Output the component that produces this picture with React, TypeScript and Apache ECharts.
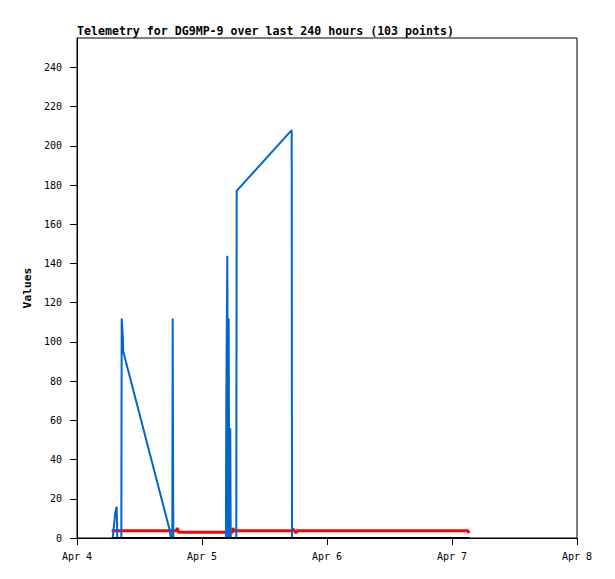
import React, { useEffect, useRef } from "react";
import * as echarts from "echarts";

// Hours since Apr 4 00:00
const xTickLabels = ["Apr 4", "Apr 5", "Apr 6", "Apr 7", "Apr 8"];
const yTicks = [0, 20, 40, 60, 80, 100, 120, 140, 160, 180, 200, 220, 240];

const blueHours = [6.85, 6.97, 7.16, 7.35, 7.62, 7.74, 8.51, 8.58, 8.77, 8.89, 17.8, 17.99, 18.3, 18.37, 18.49, 28.59, 28.67, 28.86, 29.0, 29.12, 29.24, 29.43, 29.51, 30.58, 30.66, 41.22, 41.28, 75.26];
const blueValues = [0, 3, 8, 13, 16, 0, 0, 112, 104, 95, 4, 0, 0, 112, 0, 0, 72, 144, 0, 112, 0, 56, 0, 0, 177, 208, 0, 0];

const redHours = [6.66, 19.1, 19.26, 19.49, 29.82, 29.95, 30.14, 41.38, 41.47, 42.1, 42.24, 75.07, 75.26];
const redValues = [3.7, 3.7, 5.1, 2.9, 2.9, 5.1, 3.7, 3.7, 4.6, 2.5, 3.7, 3.7, 2.5];

const blackHours = [6.77, 75.4];
const blackValues = [0, 0];

const zip = (xs: number[], ys: number[]) => xs.map((x, i) => [x, ys[i]]);

export default function App() {
  const ref = useRef<HTMLDivElement>(null);
  useEffect(() => {
    if (!ref.current) return;
    const chart = echarts.init(ref.current, null, { renderer: "svg" });
    const mono = "DejaVu Sans Mono";
    chart.setOption({
      animation: false,
      backgroundColor: "#ffffff",
      title: {
        text: "Telemetry for DG9MP-9 over last 240 hours (103 points)",
        left: 77,
        top: 25,
        padding: 0,
        textStyle: { fontFamily: mono, fontSize: 11.6, fontWeight: "bold", color: "#000" },
      },
      grid: {
        left: 77,
        right: 38,
        top: 38,
        bottom: 41,
        show: true,
        borderColor: "#000",
        borderWidth: 1,
        backgroundColor: "transparent",
      },
      xAxis: {
        type: "value",
        min: 0,
        max: 96,
        interval: 24,
        axisLine: { show: true, lineStyle: { color: "#000", width: 1 } },
        axisTick: { show: true, length: 7, lineStyle: { color: "#000" } },
        splitLine: { show: false },
        axisLabel: {
          margin: 13,
          fontFamily: mono,
          fontSize: 10,
          color: "#000",
          formatter: (v: number) => xTickLabels[Math.round(v / 24)] ?? "",
        },
      },
      yAxis: {
        type: "value",
        min: 0,
        max: 255,
        interval: 20,
        name: "Values",
        nameLocation: "middle",
        nameGap: 29,
        nameRotate: 90,
        nameTextStyle: { fontFamily: mono, fontSize: 11.3, fontWeight: "bold", color: "#000" },
        axisLine: { show: true, lineStyle: { color: "#000", width: 1 } },
        axisTick: { show: true, length: 7, customValues: yTicks, lineStyle: { color: "#000" } },
        splitLine: { show: false },
        axisLabel: {
          margin: 15,
          fontFamily: mono,
          fontSize: 10,
          color: "#000",
          customValues: yTicks,
        },
      },
      series: [
        {
          type: "line",
          data: zip(redHours, redValues),
          showSymbol: false,
          lineStyle: { color: "#ff0000", width: 3 },
          itemStyle: { color: "#ff0000" },
        },
        {
          type: "line",
          data: zip(blueHours, blueValues),
          showSymbol: false,
          lineStyle: { color: "#0066cc", width: 2 },
          itemStyle: { color: "#0066cc" },
        },
        {
          type: "line",
          data: zip(blackHours, blackValues),
          showSymbol: false,
          lineStyle: { color: "#000000", width: 2 },
          itemStyle: { color: "#000000" },
        },
      ],
    });
    return () => chart.dispose();
  }, []);
  return (
    <div
      ref={ref}
      style={{ position: "fixed", left: 0, top: 0, width: 615, height: 579, background: "#fff" }}
    />
  );
}
